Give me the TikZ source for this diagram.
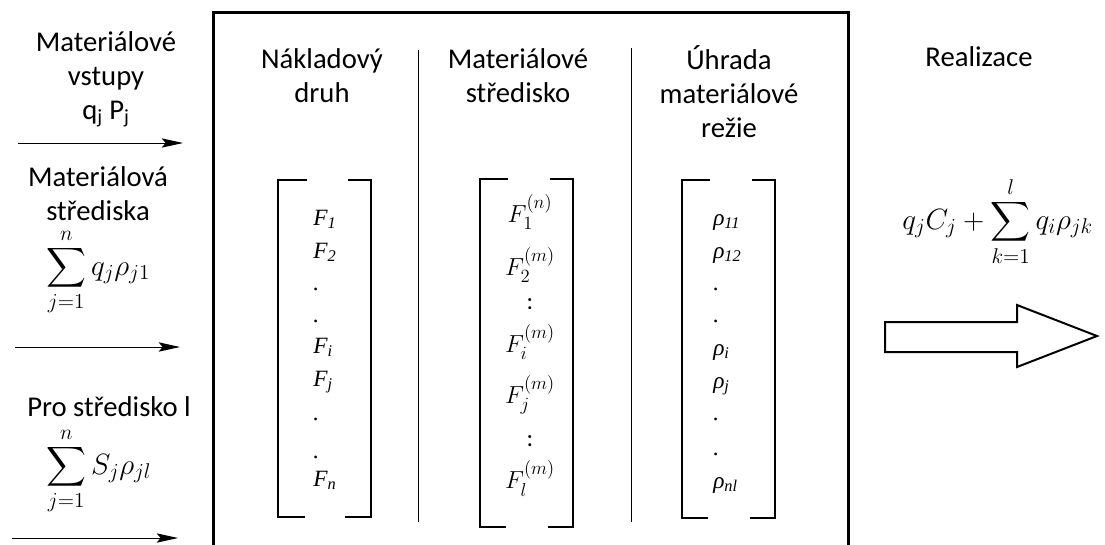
\RequirePackage{fix-cm}
\documentclass[tikz,border=0pt]{standalone}
\usepackage{amsmath}
\usepackage{fontspec}
\setmainfont{Carlito}
\newfontfamily\timesfont{Liberation Serif}
\DeclareMathSizes{18.5}{18.5}{14}{10}
\DeclareMathSizes{22}{22}{16}{12}
\usetikzlibrary{arrows.meta}
\tikzset{
  frame/.style={line width=2.25pt},
  sep/.style={line width=0.75pt},
  brack/.style={line width=1.5pt},
  head/.style={align=center,anchor=north,inner sep=0pt,font=\fontsize{21.5}{25.5}\selectfont},
  inarrow/.style={line width=0.75pt,-{Stealth[length=16pt,width=7pt,inset=3pt]}},
  entry/.style={anchor=base west,inner sep=0pt,font=\timesfont\itshape\fontsize{17.5}{20}\selectfont},
  mentry/.style={anchor=base,inner sep=0pt,font=\fontsize{18.5}{22}\selectfont},
  bigsum/.style={anchor=base west,inner sep=0pt,font=\fontsize{22}{26}\selectfont},
}
\begin{document}
\begin{tikzpicture}[x=0.75pt,y=-0.75pt]
  \clip (0,0) rectangle (1105,544);
  % frame (open at the bottom) and column separators
  \draw[frame] (213,560) -- (213,12) -- (848,12) -- (848,560);
  \draw[sep] (418,50) -- (418,522);
  \draw[sep] (631,48) -- (631,522);
  % inputs on the left
  \node[head] (vstupy) at (106,31) {Materiálové\\vstupy\\q\textsubscript{j} P\textsubscript{j}};
  \coordinate (a1s) at (18,143);
  \coordinate (a1e) at (183,143);
  \draw[inarrow] (a1s) -- (a1e);
  \node[head] (strediska) at (98,166) {Materiálová\\střediska};
  \node[bigsum] (sumq) at (46,275) {$\displaystyle\sum_{j=1}^{n} q_j\rho_{j1}$};
  \coordinate (a2s) at (15,347);
  \coordinate (a2e) at (180,347);
  \draw[inarrow] (a2s) -- (a2e);
  \node[head] (prol) at (109,396) {Pro středisko l};
  \node[bigsum] (sums) at (46,474) {$\displaystyle\sum_{j=1}^{n} S_j\rho_{jl}$};
  \coordinate (a3s) at (12,538);
  \coordinate (a3e) at (178,538);
  \draw[inarrow] (a3s) -- (a3e);
  % column heads
  \node[head] (druh) at (322,48) {Nákladový\\druh};
  \node[head] (stredisko) at (518,48) {Materiálové\\středisko};
  \node[head] (rezie) at (729,45) {Úhrada\\materiálové\\režie};
  % brackets
  \draw[brack] (307,180) -| (278,517) -- (305,517);
  \draw[brack] (348,180) -| (371,517) -- (345,517);
  \draw[brack] (508,179) -| (480,527) -- (506,527);
  \draw[brack] (550,179) -| (573,527) -- (548,527);
  \draw[brack] (710,180) -| (682,518) -- (708,518);
  \draw[brack] (752,180) -| (775,518) -- (750,518);
  % cost kinds
  \node[entry] (f1) at (313,225) {F\textsubscript{1}};
  \node[entry] (f2) at (313,258) {F\textsubscript{2}};
  \node[entry] (fd1) at (313,290) {.};
  \node[entry] (fd2) at (313,322) {.};
  \node[entry] (fi) at (313,353) {F\textsubscript{i}};
  \node[entry] (fj) at (313,386) {F\textsubscript{j}};
  \node[entry] (fd3) at (313,420) {.};
  \node[entry] (fd4) at (313,458) {.};
  \node[entry] (fn) at (313,486) {F\textsubscript{n}};
  % centres
  \node[mentry] (c1) at (530,222) {$F_1^{(n)}$};
  \node[mentry] (c2) at (530,275) {$F_2^{(m)}$};
  \node[mentry] (cd1) at (530,309) {:};
  \node[mentry] (ci) at (530,352) {$F_i^{(m)}$};
  \node[mentry] (cj) at (530,403) {$F_j^{(m)}$};
  \node[mentry] (cd2) at (530,446) {:};
  \node[mentry] (cl) at (530,488) {$F_l^{(m)}$};
  % overhead rates
  \node[entry] (r11) at (713,225) {ρ\textsubscript{11}};
  \node[entry] (r12) at (713,258) {ρ\textsubscript{12}};
  \node[entry] (rd1) at (713,290) {.};
  \node[entry] (rd2) at (713,322) {.};
  \node[entry] (ri) at (713,355) {ρ\textsubscript{i}};
  \node[entry] (rj) at (713,388) {ρ\textsubscript{j}};
  \node[entry] (rd3) at (713,420) {.};
  \node[entry] (rd4) at (713,455) {.};
  \node[entry] (rnl) at (713,488) {ρ\textsubscript{nl}};
  % output
  \node[head] (realizace) at (979,46) {Realizace};
  \node[bigsum] (total) at (902,229)
    {$q_jC_j+\displaystyle\sum_{k=1}^{l} q_i\rho_{jk}$};
  \draw[line width=1.5pt] (885,322) -- (1017,322) -- (1017,305) -- (1097,336)
    -- (1017,367) -- (1017,352) -- (885,352) -- cycle;
\end{tikzpicture}
\end{document}
